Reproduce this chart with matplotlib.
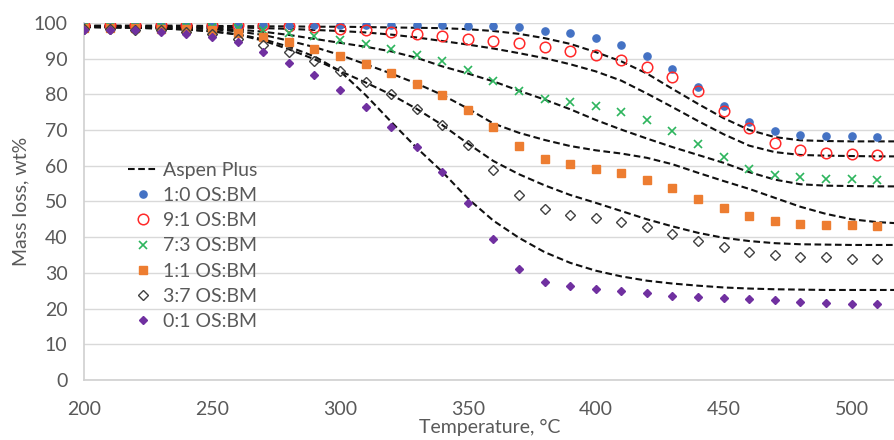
import matplotlib

matplotlib.use("Agg")
import matplotlib.pyplot as plt

# measured points, every 10 degC
temp = list(range(200, 520, 10))

os_10 = [99.6, 99.6, 99.6, 99.6, 99.6, 99.5, 99.5, 99.5, 99.5, 99.5, 99.5, 99.5, 99.5, 99.5,
         99.4, 99.2, 99.0, 98.7, 97.8, 97.2, 95.8, 93.7, 90.8, 87.0, 81.9, 76.8, 72.2, 69.6,
         68.6, 68.3, 68.2, 68.1]
os_91 = [99.5, 99.5, 99.5, 99.5, 99.5, 99.5, 99.5, 99.4, 99.2, 98.7, 98.2, 97.9, 97.4, 97.0,
         96.2, 95.5, 94.9, 94.4, 93.1, 92.2, 90.9, 89.7, 87.6, 84.7, 80.8, 75.4, 70.5, 66.4,
         64.3, 63.5, 63.3, 63.1]
os_73 = [99.2, 99.2, 99.1, 99.1, 99.0, 98.9, 98.6, 98.0, 97.2, 96.2, 95.2, 94.1, 92.7, 91.0,
         89.2, 86.7, 83.8, 80.8, 78.8, 77.7, 76.6, 75.1, 72.9, 69.8, 66.1, 62.3, 59.0, 57.5,
         56.7, 56.4, 56.2, 56.1]
os_11 = [98.6, 98.6, 98.5, 98.4, 98.3, 98.0, 97.2, 96.0, 94.5, 92.8, 90.8, 88.5, 85.9, 83.0,
         79.8, 75.7, 70.7, 65.4, 61.8, 60.5, 59.1, 57.9, 56.1, 53.7, 50.8, 48.1, 45.8, 44.5,
         43.8, 43.5, 43.4, 43.2]
os_37 = [98.2, 98.2, 98.1, 97.9, 97.5, 97.0, 95.6, 93.9, 91.8, 89.4, 86.5, 83.4, 80.1, 75.9,
         71.5, 65.7, 58.8, 51.8, 47.8, 46.2, 45.3, 44.3, 42.8, 41.0, 39.0, 37.2, 35.7, 34.9,
         34.5, 34.3, 34.0, 33.8]
os_01 = [98.1, 98.1, 97.9, 97.5, 96.9, 96.0, 94.5, 91.9, 88.8, 85.3, 81.2, 76.3, 70.9, 65.1,
         58.2, 49.5, 39.6, 31.1, 27.4, 26.2, 25.6, 24.9, 24.3, 23.6, 23.2, 22.9, 22.6, 22.3,
         21.8, 21.6, 21.4, 21.2]

# Aspen Plus model curves
temp_model = list(range(200, 530, 10))

aspen_10 = [99.2, 99.2, 99.2, 99.2, 99.2, 99.1, 99.1, 99.0, 99.0, 98.9, 98.9, 98.8, 98.7,
            98.6, 98.5, 98.2, 97.7, 96.9, 95.7, 94.1, 91.8, 89.2, 85.8, 81.5, 77.3, 73.3,
            70.0, 68.0, 67.1, 66.9, 66.8, 66.8, 66.8]
aspen_91 = [99.1, 99.1, 99.0, 99.0, 98.9, 98.8, 98.7, 98.5, 98.3, 98.0, 97.7, 97.3, 96.7,
            95.9, 94.9, 93.9, 92.8, 91.5, 90.1, 88.4, 86.4, 83.8, 80.2, 76.4, 72.5, 68.8,
            65.6, 63.8, 63.0, 62.8, 62.7, 62.6, 62.6]
aspen_73 = [99.0, 99.0, 98.9, 98.8, 98.7, 98.5, 98.1, 97.5, 96.6, 95.5, 94.4, 93.3, 92.0,
            90.2, 87.8, 85.8, 83.6, 81.0, 78.5, 75.8, 72.8, 70.1, 67.6, 65.2, 63.0, 60.8,
            58.2, 56.1, 54.8, 54.4, 54.3, 54.2, 54.2]
aspen_11 = [99.0, 98.9, 98.8, 98.7, 98.5, 98.2, 97.6, 96.6, 95.0, 93.2, 91.0, 88.4, 85.8,
            83.0, 79.8, 76.0, 71.8, 69.2, 67.2, 65.5, 64.3, 63.4, 62.2, 60.4, 58.0, 55.7,
            53.5, 51.0, 48.5, 46.5, 45.0, 44.2, 43.8]
aspen_37 = [98.8, 98.7, 98.6, 98.4, 98.1, 97.6, 96.7, 95.0, 92.6, 89.8, 86.5, 83.3, 79.9,
            75.9, 71.4, 66.2, 61.3, 57.6, 54.5, 51.8, 49.6, 47.3, 45.0, 43.0, 41.2, 39.8,
            38.9, 38.3, 38.0, 37.9, 37.8, 37.8, 37.8]
aspen_01 = [98.8, 98.7, 98.6, 98.4, 98.1, 97.6, 96.8, 95.4, 93.3, 90.6, 86.5, 79.8, 72.3,
            65.0, 58.3, 50.8, 44.6, 39.8, 35.8, 32.8, 30.6, 29.0, 27.8, 27.0, 26.4, 25.9,
            25.6, 25.4, 25.3, 25.2, 25.2, 25.2, 25.2]

labels = ["1:0 OS:BM", "9:1 OS:BM", "7:3 OS:BM", "1:1 OS:BM", "3:7 OS:BM", "0:1 OS:BM"]

GREY = "#595959"

plt.rcParams["font.family"] = ["Lato", "DejaVu Sans"]

fig = plt.figure(figsize=(8.95, 4.40), dpi=100)
ax = fig.add_axes([0.094, 0.1364, 0.906, 0.8118])

# dashed model lines (only the first gets a legend entry)
for i, curve in enumerate([aspen_10, aspen_91, aspen_73, aspen_11, aspen_37, aspen_01]):
    ax.plot(temp_model, curve, color="#111111", lw=1.5, dashes=(3.2, 1.7),
            label="Aspen Plus" if i == 0 else None, zorder=3)

ax.plot(temp, os_10, ls="none", marker="o", ms=5.2, color="#4472c4",
        label=labels[0], zorder=4)
ax.plot(temp, os_91, ls="none", marker="o", ms=7.6, mfc="none", mec="#ff2a2a",
        mew=1.1, label=labels[1], zorder=4)
ax.plot(temp, os_73, ls="none", marker="x", ms=6.0, color="#2db55d", mew=1.2,
        label=labels[2], zorder=4)
ax.plot(temp, os_11, ls="none", marker="s", ms=5.4, color="#ed7d31",
        label=labels[3], zorder=4)
ax.plot(temp, os_37, ls="none", marker="D", ms=5.4, mfc="none", mec="#404040",
        mew=1.0, label=labels[4], zorder=4)
ax.plot(temp, os_01, ls="none", marker="D", ms=4.0, color="#7030a0",
        label=labels[5], zorder=4)

ax.set_xlim(200, 517)
ax.set_ylim(0, 100)
ax.set_xticks([200, 250, 300, 350, 400, 450, 500])
ax.set_yticks(range(0, 101, 10))
ax.grid(axis="y", color="#d9d9d9", lw=1.0)
ax.set_axisbelow(True)

for side in ["top", "right"]:
    ax.spines[side].set_visible(False)
for side in ["left", "bottom"]:
    ax.spines[side].set_color("#d0d0d0")
    ax.spines[side].set_linewidth(1.2)

ax.tick_params(length=0, colors=GREY, labelsize=14)
ax.tick_params(axis="y", pad=12)
ax.tick_params(axis="x", pad=15)

ax.set_xlabel("Temperature, \u00b0C", color=GREY, fontsize=14, labelpad=1)
ax.set_ylabel("Mass loss, wt%", color=GREY, fontsize=14, labelpad=3)

ax.legend(loc="upper left", bbox_to_anchor=(0.143, 0.632), bbox_transform=fig.transFigure,
          frameon=False, fontsize=14, labelspacing=0.42, handlelength=1.55,
          handletextpad=0.25, borderpad=0, borderaxespad=0, labelcolor=GREY)

fig.savefig("out.png", dpi=100)
